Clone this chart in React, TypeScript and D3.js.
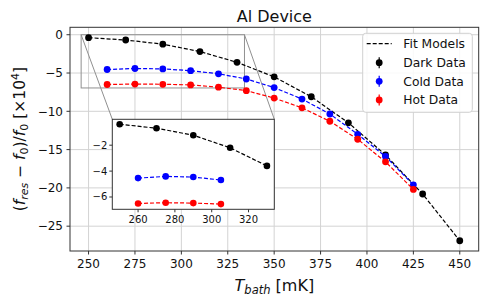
import React from "react";
import * as d3 from "d3";

// temperatures (mK) and fractional shifts (x1e4)
const darkT = [250, 270, 290, 310, 330, 350, 370, 390, 410, 430, 450];
const darkY = [-0.38, -0.69, -1.23, -2.2, -3.6, -5.5, -8.1, -11.5, -15.7, -20.8, -26.9];
const coldT = [260, 275, 290, 305, 320, 335, 350, 365, 380, 395, 410, 425];
const coldY = [-4.54, -4.41, -4.46, -4.69, -5.1, -5.78, -6.9, -8.4, -10.35, -13.0, -15.9, -19.6];
const hotT = [260, 275, 290, 305, 320, 335, 350, 365, 380, 395, 410, 425];
const hotY = [-6.5, -6.44, -6.47, -6.55, -6.85, -7.3, -8.27, -9.55, -11.3, -13.65, -16.6, -20.2];

const xTicks = [250, 275, 300, 325, 350, 375, 400, 425, 450];
const yTicks = [0, -5, -10, -15, -20, -25];
const insetXTicks = [260, 280, 300, 320];
const insetYTicks = [-2, -4, -6];
const insetXLim = [246, 334];
const insetYLim = [-6.95, 0];
// how many leading points of each series are shown in the inset
const insetCounts = [5, 4, 4];

const legendItems = ["Dark Data", "Cold Data", "Hot Data"];

const series = [
  { name: "Dark Data", t: darkT, y: darkY, color: "#000000" },
  { name: "Cold Data", t: coldT, y: coldY, color: "#0000ff" },
  { name: "Hot Data", t: hotT, y: hotY, color: "#ff0000" },
];

const font = "DejaVu Sans, sans-serif";
const fmt = (v: number) => (v < 0 ? "\u2212" + Math.abs(v) : String(v));

const App = () => {
  const W = 488, H = 305;
  const m = { left: 70, right: 478.7, top: 27.3, bottom: 251 };

  const x = d3.scaleLinear().domain([240, 460.2]).range([m.left, m.right]);
  const y = d3.scaleLinear().domain([-28.24, 0.97]).range([m.bottom, m.top]);

  const ins = { left: 112.3, right: 274.3, top: 119.3, bottom: 209.3 };
  const ix = d3.scaleLinear().domain(insetXLim).range([ins.left, ins.right]);
  const iy = d3.scaleLinear().domain(insetYLim).range([ins.bottom, ins.top]);

  const line = (sx: any, sy: any) =>
    d3.line<[number, number]>().x(d => sx(d[0])).y(d => sy(d[1]));

  // zoom rectangle in data coords
  const rx0 = x(insetXLim[0]), rx1 = x(insetXLim[1]);
  const ry0 = y(insetYLim[1]), ry1 = y(insetYLim[0]);

  const legColors = ["#000000", "#0000ff", "#ff0000"];

  return (
    <svg width={W} height={H} style={{ position: "absolute", left: 0, top: 0, background: "#fff" }} fontFamily={font}>
      {/* grid */}
      <g stroke="#d3d3d3" strokeWidth={1}>
        {xTicks.map(t => (
          <line key={"gx" + t} x1={x(t)} x2={x(t)} y1={m.top} y2={m.bottom} />
        ))}
        {yTicks.map(t => (
          <line key={"gy" + t} x1={m.left} x2={m.right} y1={y(t)} y2={y(t)} />
        ))}
      </g>

      {/* zoom indicator */}
      <rect x={rx0} y={ry0} width={rx1 - rx0} height={ry1 - ry0} fill="none" stroke="#909090" strokeWidth={1} />
      <line x1={rx0} y1={ry0} x2={ins.left} y2={ins.top} stroke="#909090" strokeWidth={1} />
      <line x1={rx1} y1={ry0} x2={ins.right} y2={ins.top} stroke="#909090" strokeWidth={1} />

      {/* main data */}
      {series.map(s => {
        const pts = s.t.map((t, i) => [t, s.y[i]] as [number, number]);
        return (
          <g key={s.name}>
            <path d={line(x, y)(pts) || ""} fill="none" stroke={s.color} strokeWidth={1.2} strokeDasharray="4,2" />
            {pts.map((p, i) => (
              <circle key={i} cx={x(p[0])} cy={y(p[1])} r={3.4} fill={s.color} />
            ))}
          </g>
        );
      })}

      {/* spines */}
      <rect x={m.left} y={m.top} width={m.right - m.left} height={m.bottom - m.top} fill="none" stroke="#333" strokeWidth={1} />

      {/* x axis */}
      {xTicks.map(t => (
        <g key={"xt" + t}>
          <line x1={x(t)} x2={x(t)} y1={m.bottom} y2={m.bottom + 3.5} stroke="#333" />
          <text x={x(t)} y={m.bottom + 17} fontSize={12} textAnchor="middle" fill="#111">{fmt(t)}</text>
        </g>
      ))}
      {yTicks.map(t => (
        <g key={"yt" + t}>
          <line x1={m.left - 3.5} x2={m.left} y1={y(t)} y2={y(t)} stroke="#333" />
          <text x={m.left - 7} y={y(t)} dy="0.35em" fontSize={12} textAnchor="end" fill="#111">{fmt(t)}</text>
        </g>
      ))}

      {/* title */}
      <text x={(m.left + m.right) / 2} y={22} fontSize={16} textAnchor="middle" fill="#111">Al Device</text>

      {/* x label */}
      <text x={(m.left + m.right) / 2} y={291} fontSize={16} textAnchor="middle" fill="#111">
        <tspan fontStyle="italic">T</tspan>
        <tspan fontStyle="italic" fontSize={11.5} dy={3}>bath</tspan>
        <tspan dy={-3}> [mK]</tspan>
      </text>

      {/* y label */}
      <text transform={`translate(25,${(m.top + m.bottom) / 2}) rotate(-90)`} fontSize={15.5} textAnchor="middle" fill="#111">
        <tspan>(</tspan>
        <tspan fontStyle="italic">f</tspan>
        <tspan fontStyle="italic" fontSize={11} dy={3}>res</tspan>
        <tspan dy={-3}> {"\u2212"} </tspan>
        <tspan fontStyle="italic">f</tspan>
        <tspan fontSize={11} dy={3}>0</tspan>
        <tspan dy={-3}>)/</tspan>
        <tspan fontStyle="italic">f</tspan>
        <tspan fontSize={11} dy={3}>0</tspan>
        <tspan dy={-3}> [×10</tspan>
        <tspan fontSize={11} dy={-6}>4</tspan>
        <tspan dy={6}>]</tspan>
      </text>

      {/* legend */}
      <g>
        <rect x={362.7} y={33.3} width={109.6} height={79} rx={3} fill="#fff" fillOpacity={0.85} stroke="#d0d0d0" />
        <line x1={366.7} x2={391.7} y1={43.7} y2={43.7} stroke="#000" strokeWidth={1.2} strokeDasharray="4,2" />
        <text x={403.3} y={43.7} dy="0.35em" fontSize={12.3} fill="#111">Fit Models</text>
        {legendItems.map((name, i) => {
          const ly = 62.7 + i * 18.6;
          return (
            <g key={name}>
              <line x1={379.2} x2={379.2} y1={ly - 5.5} y2={ly + 5.5} stroke={legColors[i]} strokeWidth={1.2} />
              <circle cx={379.2} cy={ly} r={3.4} fill={legColors[i]} />
              <text x={403.3} y={ly} dy="0.35em" fontSize={12.3} fill="#111">{name}</text>
            </g>
          );
        })}
      </g>

      {/* inset */}
      <g>
        <rect x={ins.left} y={ins.top} width={ins.right - ins.left} height={ins.bottom - ins.top} fill="#fff" />
        {series.map((s, si) => {
          const pts = s.t
            .slice(0, insetCounts[si])
            .map((t, i) => [t, s.y[i]] as [number, number]);
          return (
            <g key={"i" + s.name}>
              <path d={line(ix, iy)(pts) || ""} fill="none" stroke={s.color} strokeWidth={1.2} strokeDasharray="4,2" />
              {pts.map((p, i) => (
                <circle key={i} cx={ix(p[0])} cy={iy(p[1])} r={3.3} fill={s.color} />
              ))}
            </g>
          );
        })}
        <rect x={ins.left} y={ins.top} width={ins.right - ins.left} height={ins.bottom - ins.top} fill="none" stroke="#333" strokeWidth={1} />
        {insetXTicks.map(t => (
          <g key={"ixt" + t}>
            <line x1={ix(t)} x2={ix(t)} y1={ins.bottom} y2={ins.bottom + 3} stroke="#333" />
            <text x={ix(t)} y={ins.bottom + 14} fontSize={10} textAnchor="middle" fill="#111">{fmt(t)}</text>
          </g>
        ))}
        {insetYTicks.map(t => (
          <g key={"iyt" + t}>
            <line x1={ins.left - 3} x2={ins.left} y1={iy(t)} y2={iy(t)} stroke="#333" />
            <text x={ins.left - 5} y={iy(t)} dy="0.35em" fontSize={10} textAnchor="end" fill="#111">{fmt(t)}</text>
          </g>
        ))}
      </g>
    </svg>
  );
};

export default App;
